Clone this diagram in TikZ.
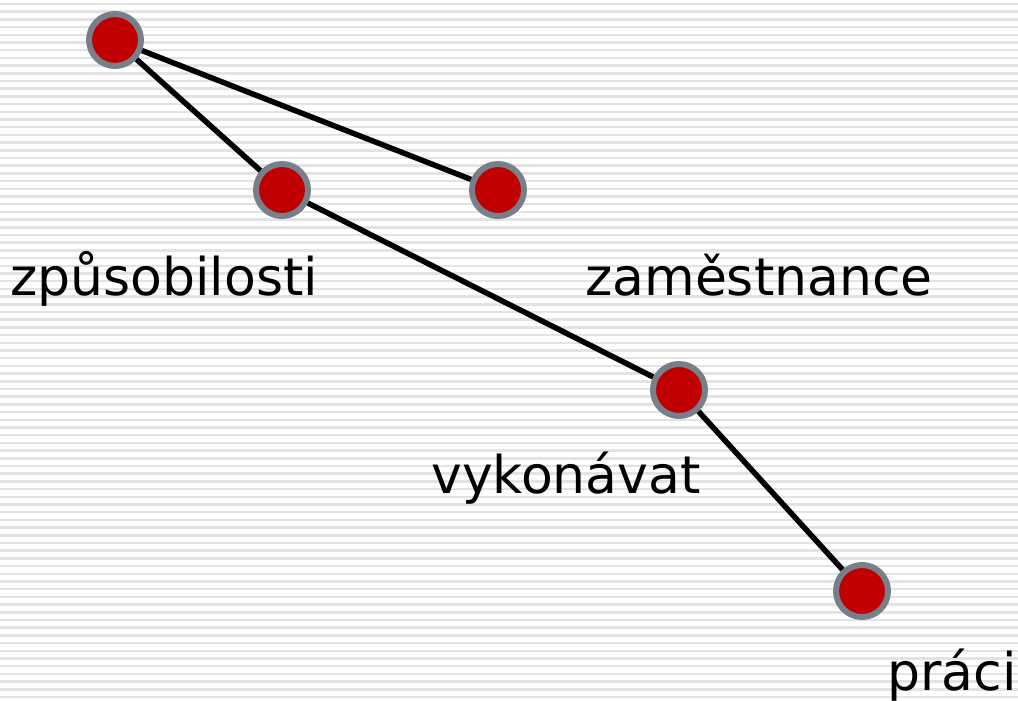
\documentclass[tikz,border=0pt]{standalone}
\usepackage{fontspec}
\setmainfont{DejaVu Sans}
\usepackage{tikz}
\usetikzlibrary{positioning}
\definecolor{dotred}{HTML}{C00000}
\definecolor{dotring}{HTML}{77808A}
\tikzset{
  dot/.style={circle,draw=dotring,fill=dotred,line width=6pt,minimum size=52pt,inner sep=0pt},
  link/.style={line width=5.5pt},
  word/.style={anchor=base,inner sep=0pt,font=\fontsize{52}{60}\selectfont},
  stripe/.style={draw=gray!22,line width=2.5pt}
}

\begin{document}
\begin{tikzpicture}[x=1pt,y=-1pt]
\useasboundingbox (0,0) rectangle (1018,701);
\foreach \i in {0,...,90}
  \draw[stripe] (0,{4+\i*7.7}) -- (1018,{4+\i*7.7});
\node (top) [dot] at (115,40) {};
\node (zpus) [dot] at (282,190) {};
\node (zam) [dot] at (498,190) {};
\node (vyk) [dot] at (679,390) {};
\node (prac) [dot] at (862,591) {};
\node (tzpus) [word] at (164,295) {způsobilosti};
\node (tzam) [word] at (759,295) {zaměstnance};
\node (tvyk) [word] at (566,493) {vykonávat};
\node (tprac) [word] at (952,690) {práci};
\draw[link] (top)--(zpus);
\draw[link] (top)--(zam);
\draw[link] (zpus)--(vyk);
\draw[link] (vyk)--(prac);
\end{tikzpicture}
\end{document}
